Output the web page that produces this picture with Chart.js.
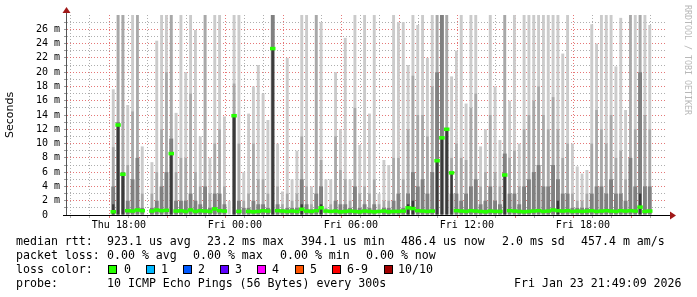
<!DOCTYPE html>
<html>
<head>
<meta charset="utf-8">
<script src="https://cdn.jsdelivr.net/npm/chart.js@4.4.1/dist/chart.umd.min.js"></script>
<style>
html, body { margin: 0; padding: 0; background: #fff; }
#wrap { position: relative; width: 697px; height: 297px; overflow: hidden; }
#wrap canvas { position: absolute; left: 0; top: 0; }
.t { position: absolute; font-family: "DejaVu Sans Mono", monospace; font-size: 11.6px; line-height: 14px; color: #000; white-space: pre; }
.sq { position: absolute; top: 265px; width: 7px; height: 7px; border: 1px solid #000; }
#credit { position: absolute; left: 683px; top: 5px; writing-mode: vertical-rl; font-family: "DejaVu Sans Mono", monospace; font-size: 8.3px; color: #b8b8b8; white-space: pre; }
</style>
</head>
<body>
<div id="wrap">
  <canvas id="myChart" width="697" height="297"></canvas>
  <div id="credit">RRDTOOL / TOBI OETIKER</div>
  <div class="t" style="left:16px;top:234px">median rtt:</div>
  <div class="t" style="left:107px;top:234px">923.1 us avg</div>
  <div class="t" style="left:207px;top:234px">23.2 ms max</div>
  <div class="t" style="left:301px;top:234px">394.1 us min</div>
  <div class="t" style="left:401px;top:234px">486.4 us now</div>
  <div class="t" style="left:502px;top:234px">2.0 ms sd</div>
  <div class="t" style="left:581px;top:234px">457.4 m am/s</div>
  <div class="t" style="left:16px;top:248px">packet loss:</div>
  <div class="t" style="left:107px;top:248px">0.00 % avg</div>
  <div class="t" style="left:193px;top:248px">0.00 % max</div>
  <div class="t" style="left:280px;top:248px">0.00 % min</div>
  <div class="t" style="left:366px;top:248px">0.00 % now</div>
  <div class="t" style="left:16px;top:262px">loss color:</div>
  <div id="lossKey"></div>
  <div class="t" style="left:16px;top:276px">probe:</div>
  <div class="t" style="left:107px;top:276px">10 ICMP Echo Pings (56 Bytes) every 300s</div>
  <div class="t" style="left:514px;top:276px">Fri Jan 23 21:49:09 2026</div>
</div>
<script>
// 15 minute slots from Thu 15:50 (hours since Thu 00:00), values in ms
var startHour = 15 + 50 / 60;
var slotHours = 0.25;

// smoke layers, outer (lightest) to core (darkest); 30 = above the top of the graph
var smokeMax = [null,null,null,null,null,null,null,17.6,30,30,15.4,30,30,9.6,null,7.4,24.4,30,30,30,14.3,30,20,30,25.9,11,30,8,30,30,13.8,2,30,30,6,14.2,18,21,17,13.3,30,10,3.3,22,5,9,30,30,4,30,27,5,5,20,12,24.8,5,30,9.8,30,14.2,30,3,7.7,7,30,27,27,21,30,26.6,30,22,30,30,30,30,19.4,23,30,15.6,30,30,9.6,12,30,18,10.5,30,16,30,10,30,30,30,30,30,30,30,30,22.6,30,10,6.8,5.8,6.3,26.7,24,30,30,30,20.8,27.6,14.7,30,30,30,30,26.6,null];
var smokeHigh = [null,null,null,null,null,null,null,9.5,30,30,7,14.5,30,3,null,3,6,12,20,30,6,8,8,17,6,4,30,3,10,12,4,null,18.4,10,2,3,10,5,5,3,30,4,1.5,3,2,3,11,4,1.5,30,7.7,1,1.5,11,6.3,5,2,15,3,4,3,5,1.5,2,2,8,8,5,12,19.5,14,14,11,18,30,30,30,8,10,8,7.7,15,17,4,6,14,6,4,30,8,9,4,12,14,16,18,14,12,16.5,12,8,10,3,2,2,3,10,14.7,12,10,14,8,9,5,30,12,30,14,12,null];
var smokeMid = [null,null,null,null,null,null,null,4,13,6,2,5,8,1,null,1,2,4,6,10.7,2,2,2,3,2,1.5,4,1,3,3,1.5,null,14,2,1,1,2,1.5,1.5,1,30,1.5,0.8,1,1,1,5,1.5,0.8,3,4,null,null,2,1.5,1.5,1,4,1,1.5,1,1.5,null,1,1,2,3,1,3,6,4,5,3,6,20,30,12.2,3,3,2,3,4,5,1.5,2,4,2,1.5,8.6,3,3,1.5,4,5,6,7,4,4,7,5,3,3,1,1,1,1,3,4,4,3,5,3,3,2,8,4,20,4,4,null];
var smokeCore = [null,null,null,null,null,null,null,1.5,12.6,5.7,null,null,null,null,null,null,null,null,null,8.6,null,null,null,null,null,null,null,null,null,null,null,null,13.9,null,null,null,null,null,null,null,23.3,null,null,null,null,null,1.5,null,null,null,1.5,null,null,null,null,null,null,null,null,null,null,null,null,null,null,null,null,null,1.5,2,null,null,null,null,7.6,10.8,12,5.9,null,null,null,null,null,null,null,null,null,null,5.6,null,null,null,null,null,null,null,null,null,null,2,null,null,null,null,null,null,null,null,null,null,null,null,null,null,null,null,3,null,null,null];
var median = [null,null,null,null,null,null,null,0.45,12.6,5.7,0.6,0.55,0.7,0.6,null,0.55,0.7,0.6,0.65,8.6,0.55,0.6,0.5,0.7,0.5,0.6,0.55,0.5,0.85,0.6,0.55,null,13.9,0.5,null,0.5,0.45,0.5,0.6,0.55,23.3,0.6,0.55,0.5,0.55,0.5,0.8,0.55,0.5,0.6,1.0,0.55,0.5,0.55,0.45,0.5,0.55,0.5,0.45,0.55,0.5,0.45,0.5,0.55,0.45,0.5,0.5,0.55,1.0,0.9,0.6,0.55,0.5,0.55,7.6,10.8,12,5.9,0.6,0.55,0.5,0.6,0.55,0.5,0.45,0.55,0.5,0.5,5.6,0.6,0.55,0.5,0.45,0.5,0.55,0.6,0.5,0.55,0.7,0.6,0.55,0.6,0.5,0.55,0.5,0.55,0.6,0.5,0.55,0.6,0.55,0.5,0.6,0.55,0.6,0.55,1.1,0.5,0.55,null];

var xTickHours = [18, 24, 30, 36, 42];
var xTickLabels = ['Thu 18:00', 'Fri 00:00', 'Fri 06:00', 'Fri 12:00', 'Fri 18:00'];
var lossLabels = ['0', '1', '2', '3', '4', '5', '6-9', '10/10'];
var lossColors = ['#26ff00', '#00b8ff', '#0059ff', '#5e00ff', '#ff00ff', '#ff5500', '#ff0000', '#a10000'];
var lossSquareX = [108, 146, 183, 220, 257, 295, 332, 384];
var lossLabelX = [124, 161, 198, 235, 272, 310, 347, 398];

// loss colour key
var key = document.getElementById('lossKey');
lossLabels.forEach(function (lab, i) {
  var sq = document.createElement('div');
  sq.className = 'sq';
  sq.style.left = lossSquareX[i] + 'px';
  sq.style.background = lossColors[i];
  key.appendChild(sq);
  var tx = document.createElement('div');
  tx.className = 't';
  tx.style.left = lossLabelX[i] + 'px';
  tx.style.top = '262px';
  tx.textContent = lab;
  key.appendChild(tx);
});

function slots(arr) {
  return arr.map(function (v, i) {
    return { x: startHour + (i + 0.5) * slotHours, y: v };
  });
}
function smoke(arr, color, order, width) {
  return { type: 'bar', data: slots(arr), backgroundColor: color, borderWidth: 0,
           grouped: false, barPercentage: width, categoryPercentage: 1, order: order };
}

var gridRed = 'rgba(225,95,95,0.85)';
var gridGray = 'rgba(160,160,160,0.85)';

var axisDeco = {
  id: 'axisDeco',
  afterDraw: function (chart) {
    var c = chart.ctx, a = chart.chartArea;
    c.save();
    c.strokeStyle = '#555';
    c.lineWidth = 1;
    c.beginPath(); c.moveTo(a.left - 0.5, 12); c.lineTo(a.left - 0.5, a.bottom + 1); c.stroke();
    c.strokeStyle = '#000';
    c.beginPath(); c.moveTo(a.left - 4, a.bottom + 0.5); c.lineTo(a.right + 4, a.bottom + 0.5); c.stroke();
    c.fillStyle = '#a01818';
    c.beginPath(); c.moveTo(a.left - 4.5, 13); c.lineTo(a.left + 3.5, 13); c.lineTo(a.left - 0.5, 7); c.closePath(); c.fill();
    c.beginPath(); c.moveTo(a.right + 3, a.bottom - 3.5); c.lineTo(a.right + 3, a.bottom + 4.5); c.lineTo(a.right + 9, a.bottom + 0.5); c.closePath(); c.fill();
    c.restore();
  }
};

Chart.defaults.color = '#000';
var ctx = document.getElementById('myChart');
var myChart = new Chart(ctx, {
  type: 'bar',
  data: {
    datasets: [
      { type: 'bar', data: median.map(function (m, i) {
          return { x: startHour + (i + 0.5) * slotHours, y: m == null ? null : [m - 0.2, m + 0.2] };
        }), backgroundColor: '#26ff00', borderWidth: 0, grouped: false,
        barPercentage: 1, categoryPercentage: 1, order: 0 },
      smoke(smokeCore, '#3a3a3a', 1, 0.5),
      smoke(smokeMid, '#808080', 2, 0.8),
      smoke(smokeHigh, '#a8a8a8', 3, 0.55),
      smoke(smokeMax, '#cbcbcb', 4, 0.6)
    ]
  },
  options: {
    responsive: false,
    animation: false,
    layout: { padding: { left: 0, top: 15, right: 30, bottom: 0 } },
    plugins: { legend: { display: false }, tooltip: { enabled: false } },
    scales: {
      x: {
        type: 'linear', z: 1,
        min: startHour, max: startHour + 30,
        afterBuildTicks: function (s) {
          var t = [];
          for (var h = 16; h <= 45; h++) t.push({ value: h });
          s.ticks = t;
        },
        afterFit: function (s) { s.height = 82; },
        grid: {
          color: function (c) { return c.tick && c.tick.value % 3 === 0 ? gridRed : gridGray; },
          tickColor: function (c) { return c.tick && c.tick.value % 3 === 0 ? gridRed : gridGray; },
          tickLength: 3, lineWidth: 1
        },
        border: { display: false, dash: [1, 2] },
        ticks: {
          autoSkip: false, maxRotation: 0, minRotation: 0, padding: 1,
          font: { family: 'DejaVu Sans Mono', size: 10 },
          callback: function (v) {
            var k = xTickHours.indexOf(v);
            return k < 0 ? '' : xTickLabels[k];
          }
        }
      },
      y: {
        type: 'linear', z: 1,
        min: 0, max: 28,
        afterBuildTicks: function (s) {
          var t = [];
          for (var v = 0; v <= 27; v++) t.push({ value: v });
          s.ticks = t;
        },
        afterFit: function (s) { s.width = 67; },
        grid: {
          color: function (c) { return c.tick && c.tick.value % 2 === 0 ? gridRed : gridGray; },
          tickColor: '#999',
          tickLength: 3, lineWidth: 1
        },
        border: { display: false, dash: [1, 2] },
        title: { display: true, text: 'Seconds', padding: { top: 4, bottom: 4 },
                 font: { family: 'DejaVu Sans', size: 11 } },
        ticks: {
          autoSkip: false, padding: 4,
          font: { family: 'DejaVu Sans Mono', size: 10 },
          callback: function (v) {
            if (v % 2 !== 0) return '';
            return v === 0 ? '0  ' : v + ' m';
          }
        }
      }
    }
  },
  plugins: [axisDeco]
});
</script>
</body>
</html>
